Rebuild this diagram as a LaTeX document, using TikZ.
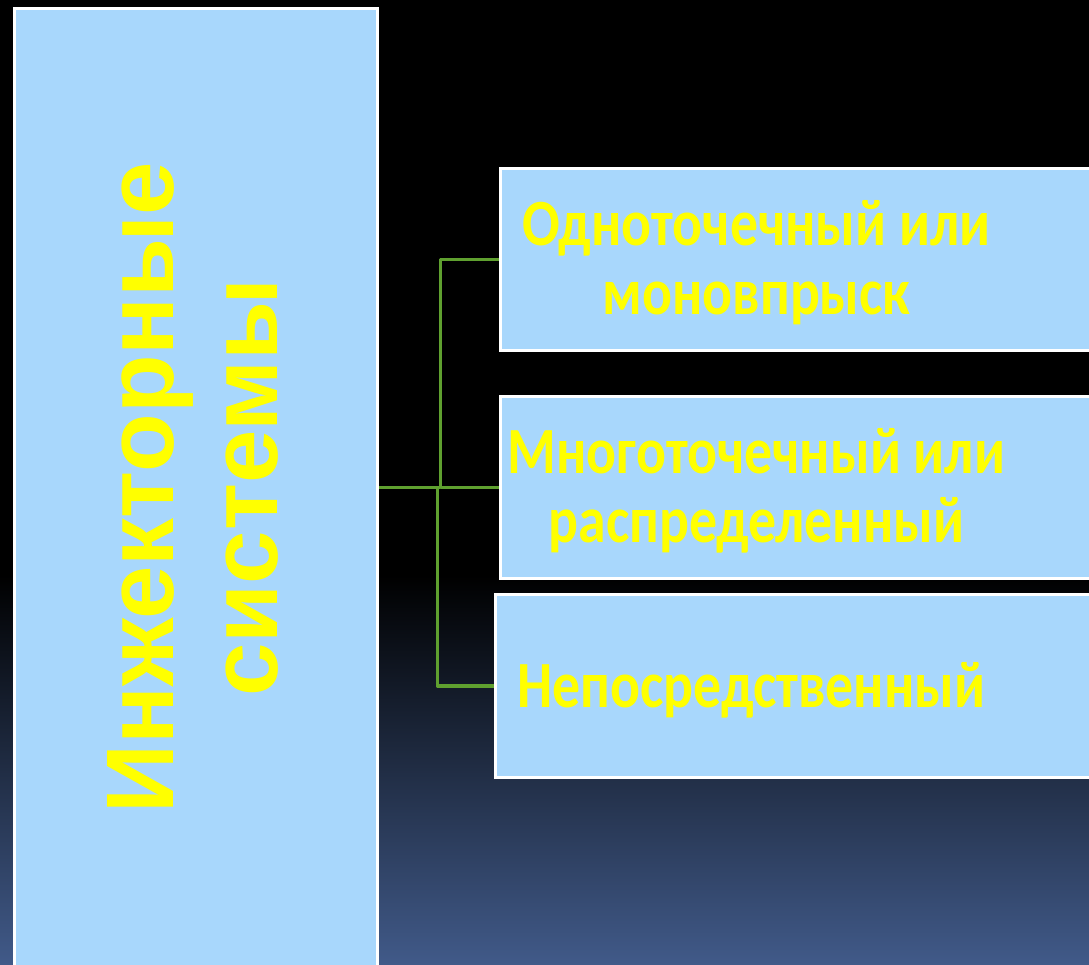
\documentclass[tikz,border=0pt]{standalone}
\usepackage{fontspec}
\usetikzlibrary{calc}
\newfontfamily\boxfont[FakeStretch=0.845]{Carlito}
\newfontfamily\titlefont{Liberation Sans}
\definecolor{boxfill}{RGB}{168,215,252}
\definecolor{linkgreen}{RGB}{95,160,47}
\definecolor{bgblue}{RGB}{65,90,137}
\definecolor{textyellow}{RGB}{255,255,0}
\pgfdeclarelayer{bg}
\pgfsetlayers{bg,main}

\begin{document}
\begin{tikzpicture}[x=1pt,y=-1pt,
  panel/.style={rectangle, draw=white, line width=3pt, fill=boxfill,
    inner sep=0pt, outer sep=0pt, anchor=north west},
  branch/.style={font=\boxfont\bfseries\fontsize{66}{69}\selectfont,
    text=textyellow, align=center, inner sep=0pt},
  heading/.style={font=\titlefont\bfseries\fontsize{96}{104}\selectfont,
    text=textyellow, align=center, inner sep=0pt, rotate=90},
  link/.style={draw=linkgreen, line width=3.4pt, line join=round}]
\useasboundingbox (0,0) rectangle (1089,965);
\clip (0,0) rectangle (1089,965);

% panels
\node[panel, minimum width=363.5pt, minimum height=1000pt] (L) at (14,9) {};
\node[panel, minimum width=700pt, minimum height=181.5pt] (B1) at (500.5,169) {};
\node[panel, minimum width=700pt, minimum height=182pt] (B2) at (500.5,396.5) {};
\node[panel, minimum width=700pt, minimum height=183pt] (B3) at (495.5,594.5) {};

% texts
\node[heading] (T) at (192.5,487.5) {Инжекторные\\системы};
\node[branch] (t1) at ($(B1.west)+(256,3)$) {Одноточечный или\\моновпрыск};
\node[branch] (t2) at ($(B2.west)+(256,3)$) {Многоточечный или\\распределенный};
\node[branch] (t3) at ($(B3.west)+(256,4)$) {Непосредственный};

% junction points of the tree
\coordinate (j1) at (440.5,487.5);
\coordinate (j2) at (437.5,487.5);

\begin{pgfonlayer}{bg}
  \fill[black] (0,0) rectangle (1089,965);
  \shade[top color=black, bottom color=bgblue] (0,575) rectangle (1089,965);
  \draw[link] (L.east |- j1) -- (j1) |- (B1.west);
  \draw[link] (j1) -- (B2.west);
  \draw[link] (j2) |- (B3.west);
\end{pgfonlayer}
\end{tikzpicture}
\end{document}
